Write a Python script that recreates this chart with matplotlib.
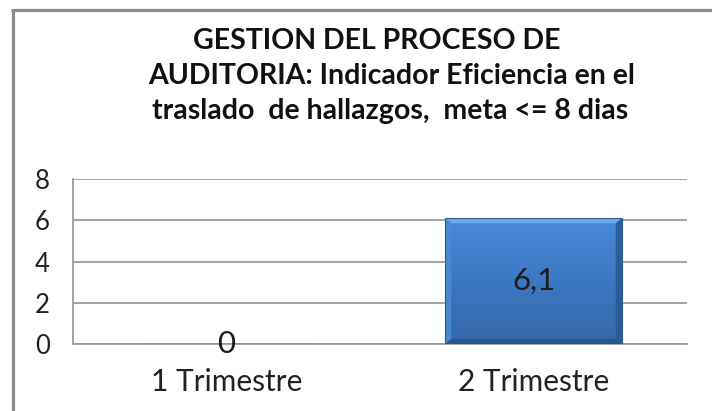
import matplotlib
matplotlib.use("Agg")
import matplotlib.pyplot as plt
import numpy as np
from matplotlib.lines import Line2D
from matplotlib.patches import Polygon
from matplotlib.colors import LinearSegmentedColormap

categories = ["1 Trimestre", "2 Trimestre"]
values = [0, 6.1]
value_labels = ["0", "6,1"]
yticks = [0, 2, 4, 6, 8]
title_lines = ["GESTION DEL PROCESO DE",
               "AUDITORIA: Indicador Eficiencia en el",
               "traslado  de hallazgos,  meta <= 8 dias"]

plt.rcParams['font.family'] = ['Lato', 'DejaVu Sans']

W, H = 712, 411
fig = plt.figure(figsize=(W / 100, H / 100), dpi=100)
fig.patch.set_facecolor('white')

# outer frame (left and top border, chart is cropped at right/bottom)
fig.add_artist(Line2D([12.5 / W, 12.5 / W], [0, 1 - 10 / H], color='#8a8a8a', lw=2.3,
                      transform=fig.transFigure, solid_capstyle='butt'))
fig.add_artist(Line2D([11 / W, 1], [1 - 10.5 / H, 1 - 10.5 / H], color='#8a8a8a', lw=2.3,
                      transform=fig.transFigure, solid_capstyle='butt'))

ax = fig.add_axes([73 / W, 1 - 344 / H, (687 - 73) / W, (344 - 179) / H])
x = np.arange(len(categories))
bw = 0.576
bars = ax.bar(x, values, width=bw, color='#3E7AC6', edgecolor='#2D5C98', linewidth=0.8, zorder=3)

cmap = LinearSegmentedColormap.from_list('g', ['#4A8AD8', '#3D78C4', '#3466A8'])
for b in bars:
    x0, y0, w, h = b.get_x(), b.get_y(), b.get_width(), b.get_height()
    if h <= 0:
        continue
    grad = np.linspace(0, 1, 100).reshape(-1, 1)
    im = ax.imshow(grad, extent=[x0, x0 + w, y0, y0 + h], cmap=cmap, aspect='auto',
                   zorder=3.1, origin='upper')
    im.set_clip_path(b)
    bx = w * 0.035
    by = h * 0.04
    top = Polygon([[x0, y0 + h], [x0 + w, y0 + h], [x0 + w - bx, y0 + h - by], [x0 + bx, y0 + h - by]],
                  closed=True, facecolor='#74ACEC', edgecolor='none', alpha=0.9, zorder=3.2)
    left = Polygon([[x0, y0], [x0, y0 + h], [x0 + bx, y0 + h - by], [x0 + bx, y0 + by]],
                   closed=True, facecolor='#4C8AD4', edgecolor='none', alpha=0.9, zorder=3.2)
    right = Polygon([[x0 + w, y0], [x0 + w, y0 + h], [x0 + w - bx, y0 + h - by], [x0 + w - bx, y0 + by]],
                    closed=True, facecolor='#2C5A92', edgecolor='none', alpha=0.9, zorder=3.2)
    bottom = Polygon([[x0, y0], [x0 + w, y0], [x0 + w - bx, y0 + by], [x0 + bx, y0 + by]],
                     closed=True, facecolor='#28548A', edgecolor='none', alpha=0.9, zorder=3.2)
    for p in (top, left, right, bottom):
        ax.add_patch(p)
    b.set_zorder(3.3)
    b.set_facecolor('none')

ax.set_xlim(-0.5, len(categories) - 0.5)
ax.set_ylim(0, 8)
ax.set_yticks(yticks)
ax.set_yticklabels([str(t) for t in yticks], fontsize=18.5, color='#222222')
ax.set_xticks(x)
ax.set_xticklabels(categories, fontsize=21.5, color='#222222')
ax.tick_params(axis='both', length=0)
ax.tick_params(axis='y', pad=16.5)
ax.tick_params(axis='x', pad=17.5)
ax.grid(axis='y', color='#9c9c9c', lw=1.3, zorder=0)
for s in ['top', 'right']:
    ax.spines[s].set_visible(False)
ax.spines['left'].set_color('#9c9c9c')
ax.spines['left'].set_linewidth(1.3)
ax.spines['bottom'].set_color('#9c9c9c')
ax.spines['bottom'].set_linewidth(1.3)

for xi, v, lab in zip(x, values, value_labels):
    ax.text(xi, v / 2, lab, ha='center', va='center', fontsize=22.5, color='#1c1c24', zorder=5)

title_x = [377, 392, 390]
title_y = [41, 76, 111]
for line, tx, ty in zip(title_lines, title_x, title_y):
    fig.text(tx / W, 1 - ty / H, line, ha='center', va='center', fontsize=20.5,
             fontweight='bold', color='#111111')

fig.savefig('out.png', dpi=100, facecolor='white')
